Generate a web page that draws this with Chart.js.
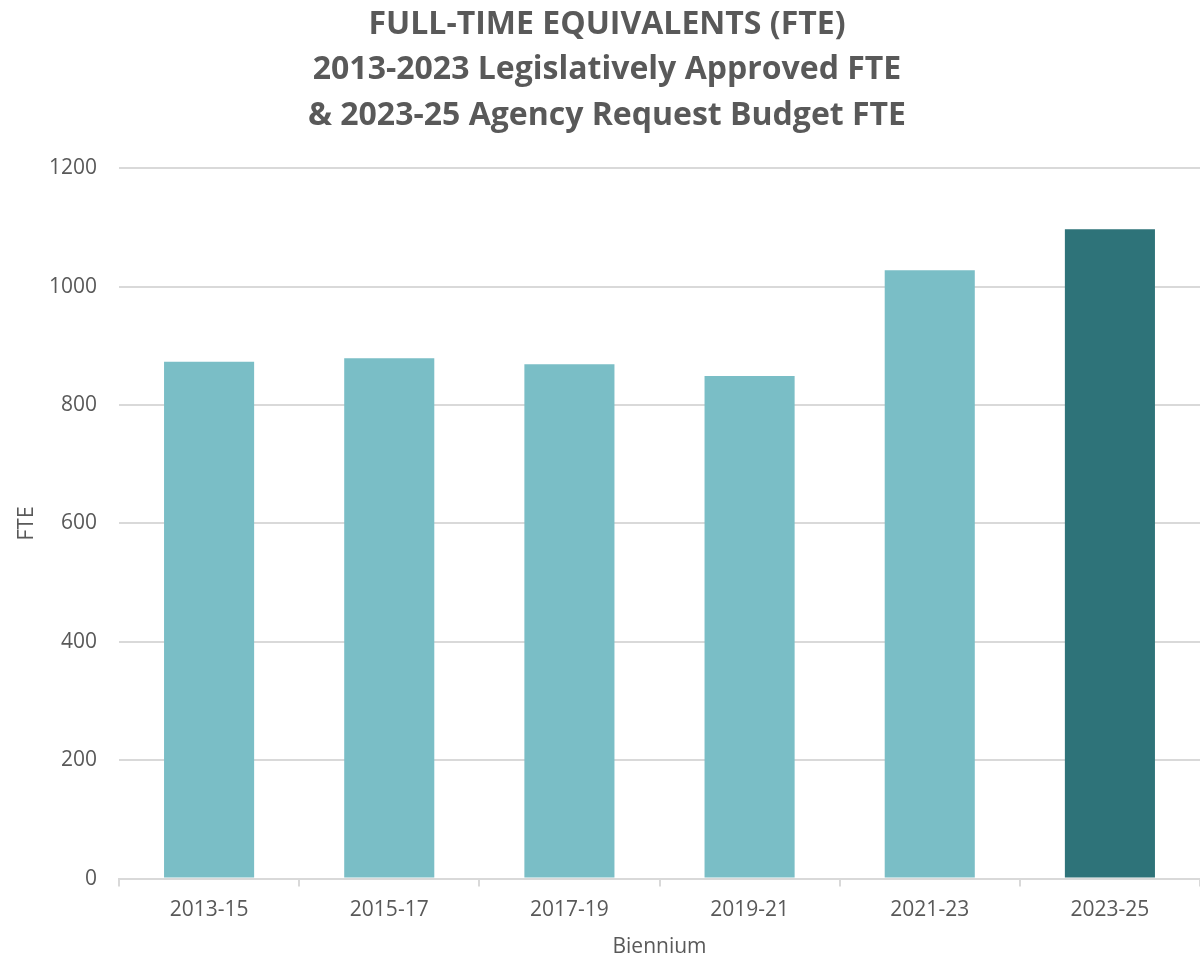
<!DOCTYPE html>
<html>
<head>
<meta charset="utf-8">
<script src="https://cdn.jsdelivr.net/npm/chart.js@4"></script>
<style>
    body { margin: 0; background: #ffffff; }
    #wrap { width: 1200px; height: 960px; }
</style>
</head>
<body>
<div id="wrap"><canvas id="fteChart"></canvas></div>
<script>
// Chart data
const categories = ['2013-15', '2015-17', '2017-19', '2019-21', '2021-23', '2023-25'];
const fteValues = [873, 879, 869, 849, 1028, 1097];
const titleLines = [
    'FULL-TIME EQUIVALENTS (FTE)',
    '2013-2023 Legislatively Approved FTE',
    '& 2023-25 Agency Request Budget FTE'
];

const lightTeal = '#7abec6';
const darkTeal = '#2e7379';
const textGray = '#595959';
const gridGray = '#d9d9d9';

// last biennium is the request budget, drawn darker
const barColors = categories.map((c, i) => i === categories.length - 1 ? darkTeal : lightTeal);

Chart.defaults.font.family = '"Open Sans", sans-serif';
Chart.defaults.color = textGray;

new Chart(document.getElementById('fteChart'), {
    type: 'bar',
    data: {
        labels: categories,
        datasets: [{
            label: 'FTE',
            data: fteValues,
            backgroundColor: barColors,
            barPercentage: 0.5,
            categoryPercentage: 1.0
        }]
    },
    options: {
        responsive: true,
        maintainAspectRatio: false,
        animation: false,
        layout: {
            padding: { left: 14, right: 0, top: 2, bottom: 0 }
        },
        plugins: {
            legend: { display: false },
            tooltip: { enabled: false },
            title: {
                display: true,
                text: titleLines,
                color: textGray,
                font: { size: 32, weight: 'bold', lineHeight: 1.42 },
                padding: { top: 0, bottom: 30 }
            }
        },
        scales: {
            x: {
                grid: {
                    drawOnChartArea: false,
                    drawTicks: true,
                    tickLength: 8,
                    color: gridGray,
                    lineWidth: 2
                },
                border: { color: gridGray, width: 2 },
                ticks: {
                    color: textGray,
                    font: { size: 21 },
                    padding: 11
                },
                title: {
                    display: true,
                    text: 'Biennium',
                    color: textGray,
                    font: { size: 21 },
                    padding: { top: 1, bottom: 0 }
                }
            },
            y: {
                min: 0,
                max: 1200,
                ticks: {
                    stepSize: 200,
                    color: textGray,
                    font: { size: 21 },
                    padding: 22,
                    callback: function(value) {
                        return String(value);
                    }
                },
                grid: {
                    color: gridGray,
                    lineWidth: 2,
                    drawTicks: false
                },
                border: { display: false },
                title: {
                    display: true,
                    text: 'FTE',
                    color: textGray,
                    font: { size: 21 },
                    padding: { top: 0, bottom: 0 }
                },
                afterFit: function(scale) {
                    scale.width = 105;
                }
            }
        }
    }
});
</script>
</body>
</html>
